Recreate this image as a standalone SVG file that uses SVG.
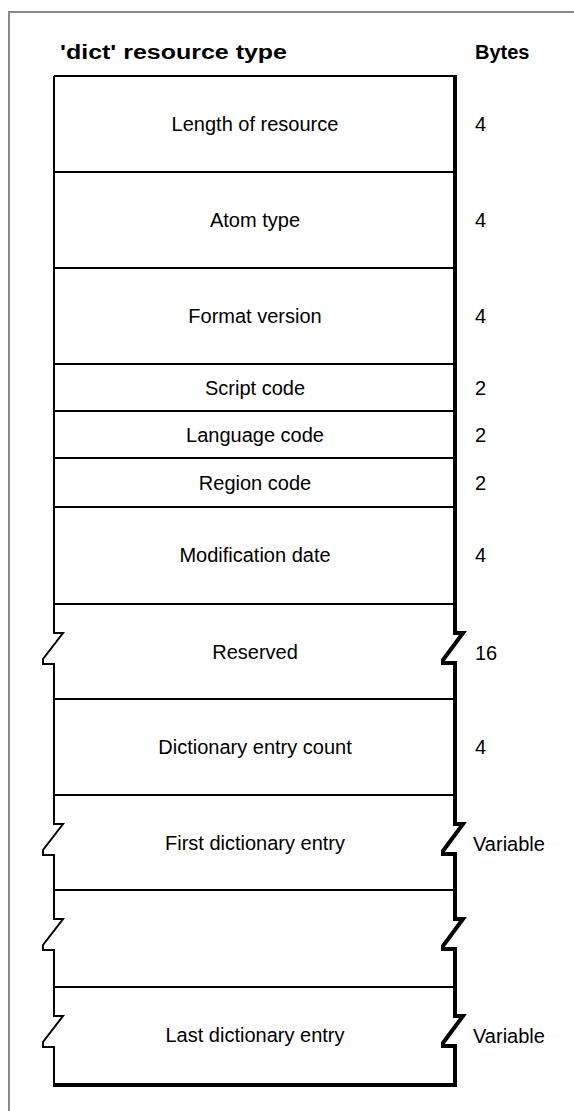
<svg xmlns="http://www.w3.org/2000/svg" width="574" height="1111" viewBox="0 0 574 1111">
<style>
.lbl{font-family:"Liberation Sans",Arial,sans-serif;font-size:20px;fill:#000;text-anchor:middle}
.num{font-family:"Liberation Sans",Arial,sans-serif;font-size:20px;fill:#000}
.hdr{font-family:"Liberation Sans",Arial,sans-serif;font-size:20px;font-weight:bold;fill:#000}
.div{stroke:#000;stroke-width:2;fill:none}
.edgeL{stroke:#000;stroke-width:2;fill:none;stroke-linejoin:miter}
.edgeR{stroke:#000;stroke-width:4;fill:none;stroke-linejoin:miter}
</style>
<rect x="0" y="0" width="574" height="1111" fill="#fff"/>
<g id="frame">
<path d="M9,1111 V12 H574" stroke="#8a8a8a" stroke-width="2" fill="none"/>
</g>
<g id="headers">
<text class="hdr" x="60" y="59" textLength="227" lengthAdjust="spacingAndGlyphs">'dict' resource type</text>
<text class="hdr" x="475" y="59">Bytes</text>
</g>
<g id="box-outline">
<path class="div" d="M54,76 H455"/>
<path class="edgeL" d="M54,76 V633 H63 L43,659 V664 H54 V824 H63 L43,850 V855 H54 V919 H63 L43,945 V950 H54 V1016 H63 L43,1042 V1047 H54 V1085"/>
<path class="edgeR" d="M455,75 V633 H463 L443,660 V663 H455 V824 H463 L443,851 V854 H455 V919 H463 L443,946 V949 H455 V1016 H463 L443,1043 V1046 H455 V1087"/>
<path class="edgeR" d="M53,1085 H457"/>
</g>
<g id="connectors">
<path class="div" d="M54,172 H455"/>
<path class="div" d="M54,268 H455"/>
<path class="div" d="M54,364 H455"/>
<path class="div" d="M54,411 H455"/>
<path class="div" d="M54,458 H455"/>
<path class="div" d="M54,507 H455"/>
<path class="div" d="M54,604 H455"/>
<path class="div" d="M54,699 H455"/>
<path class="div" d="M54,795 H455"/>
<path class="div" d="M54,890 H455"/>
<path class="div" d="M54,987 H455"/>
</g>
<g id="row-length"><text class="lbl" x="255" y="131">Length of resource</text><text class="num" x="475" y="131">4</text></g>
<g id="row-atom"><text class="lbl" x="255" y="227">Atom type</text><text class="num" x="475" y="227">4</text></g>
<g id="row-format"><text class="lbl" x="255" y="323">Format version</text><text class="num" x="475" y="323">4</text></g>
<g id="row-script"><text class="lbl" x="255" y="395">Script code</text><text class="num" x="475" y="395">2</text></g>
<g id="row-language"><text class="lbl" x="255" y="442">Language code</text><text class="num" x="475" y="442">2</text></g>
<g id="row-region"><text class="lbl" x="255" y="490">Region code</text><text class="num" x="475" y="490">2</text></g>
<g id="row-moddate"><text class="lbl" x="255" y="562">Modification date</text><text class="num" x="475" y="562">4</text></g>
<g id="row-reserved"><text class="lbl" x="255" y="659">Reserved</text><text class="num" x="475" y="660">16</text></g>
<g id="row-count"><text class="lbl" x="255" y="754">Dictionary entry count</text><text class="num" x="475" y="754">4</text></g>
<g id="row-first"><text class="lbl" x="255" y="850">First dictionary entry</text><text class="num" x="473" y="851">Variable</text></g>
<g id="row-gap"></g>
<g id="row-last"><text class="lbl" x="255" y="1042">Last dictionary entry</text><text class="num" x="473" y="1043">Variable</text></g>
</svg>
